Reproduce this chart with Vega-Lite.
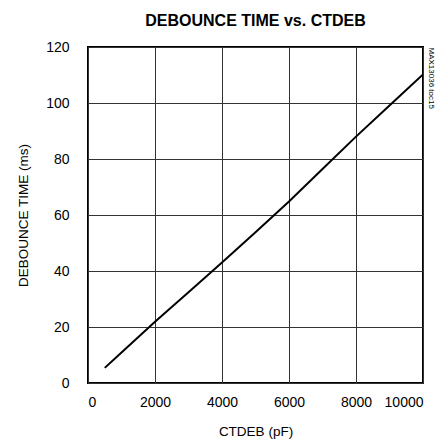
{
  "$schema": "https://vega.github.io/schema/vega-lite/v6.json",
  "width": 335,
  "height": 336,
  "autosize": "none",
  "padding": {"left": 88, "top": 47, "right": 25, "bottom": 61},
  "background": "white",
  "title": {
    "text": "DEBOUNCE TIME vs. CTDEB",
    "font": "Liberation Sans",
    "fontSize": 16,
    "fontWeight": "bold",
    "color": "black",
    "anchor": "middle",
    "offset": 11
  },
  "config": {
    "view": {"stroke": "black", "strokeWidth": 2},
    "axis": {
      "labelFont": "Liberation Sans",
      "titleFont": "Liberation Sans",
      "labelFontSize": 14,
      "titleFontSize": 13.5,
      "labelColor": "black",
      "titleColor": "black",
      "titleFontWeight": "normal",
      "gridColor": "#333333",
      "gridWidth": 1,
      "gridOpacity": 1,
      "ticks": false,
      "domain": false
    }
  },
  "data": {
    "values": [
      {"c": 500, "t": 5.4},
      {"c": 1000, "t": 10.9},
      {"c": 2000, "t": 21.9},
      {"c": 3000, "t": 32.4},
      {"c": 4000, "t": 43.0},
      {"c": 5000, "t": 53.8},
      {"c": 6000, "t": 64.8},
      {"c": 7000, "t": 76.4},
      {"c": 8000, "t": 88.0},
      {"c": 9000, "t": 99.1},
      {"c": 10000, "t": 110.2}
    ]
  },
  "layer": [
    {
      "mark": {"type": "line", "color": "black", "strokeWidth": 2, "clip": true},
      "encoding": {
        "x": {
          "field": "c", "type": "quantitative",
          "scale": {"domain": [0, 10000], "nice": false},
          "axis": {"values": [0, 2000, 4000, 6000, 8000, 10000], "title": "CTDEB (pF)", "labelPadding": 12, "titlePadding": 15, "format": "d"}
        },
        "y": {
          "field": "t", "type": "quantitative",
          "scale": {"domain": [0, 120], "nice": false},
          "axis": {"values": [0, 20, 40, 60, 80, 100, 120], "title": "DEBOUNCE TIME (ms)", "labelPadding": 19, "titlePadding": 15}
        }
      }
    },
    {
      "mark": {"type": "line", "strokeOpacity": 0},
      "encoding": {
        "x": {"field": "c", "type": "quantitative"},
        "y": {
          "field": "t", "type": "quantitative",
          "axis": {"orient": "right", "labels": false, "grid": false, "title": "MAX13036 toc15", "titleFontSize": 8, "titleFont": "Liberation Sans", "titleAngle": 90, "titleAnchor": "end", "titleAlign": "left", "titleBaseline": "bottom", "titlePadding": 3}
        }
      }
    }
  ],
  "resolve": {"axis": {"y": "independent"}}
}
